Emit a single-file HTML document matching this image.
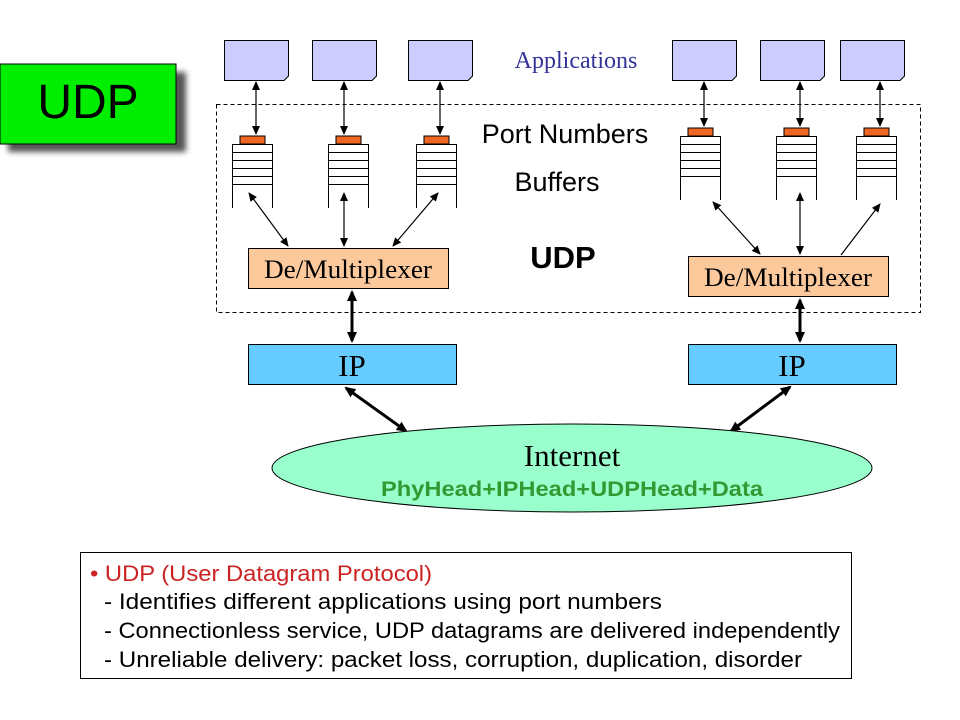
<!DOCTYPE html>
<html><head><meta charset="utf-8"><style>html,body{margin:0;padding:0;background:#fff}svg{display:block}</style></head><body>
<svg width="960" height="720" viewBox="0 0 960 720" xmlns="http://www.w3.org/2000/svg">
<defs>
<marker id="a" markerWidth="10" markerHeight="10" refX="8" refY="5" orient="auto-start-reverse" markerUnits="userSpaceOnUse"><path d="M0,1 L9,5 L0,9 z" fill="#000"/></marker>
<marker id="b" markerWidth="12" markerHeight="12" refX="9" refY="6" orient="auto-start-reverse" markerUnits="userSpaceOnUse"><path d="M0,1 L11,6 L0,11 z" fill="#000"/></marker>
<filter id="sh" x="-20%" y="-20%" width="150%" height="150%"><feGaussianBlur stdDeviation="3"/></filter>
</defs>
<rect x="8" y="72" width="178" height="80" fill="#555" filter="url(#sh)"/>
<rect x="0" y="64" width="176" height="80" fill="#00ee00" stroke="#000" stroke-width="1"/>
<text x="88" y="118" font-family="Liberation Sans,sans-serif" font-size="48" text-anchor="middle" fill="#000">UDP</text>
<rect x="216.5" y="104.5" width="704" height="208" fill="none" stroke="#000" stroke-dasharray="4,3"/>
<g fill="#ccccff" stroke="#000">
<path d="M224.5,40.5 H288.5 V76 L284,80.5 H224.5 Z"/>
<path d="M312.5,40.5 H376.5 V76 L372,80.5 H312.5 Z"/>
<path d="M408.5,40.5 H472.5 V76 L468,80.5 H408.5 Z"/>
<path d="M672.5,40.5 H736.5 V76 L732,80.5 H672.5 Z"/>
<path d="M760.5,40.5 H824.5 V76 L820,80.5 H760.5 Z"/>
<path d="M840.5,40.5 H904.5 V76 L900,80.5 H840.5 Z"/>
</g>
<text x="576" y="68" font-family="Liberation Serif,serif" font-size="24" fill="#333399" text-anchor="middle">Applications</text>
<text x="565" y="143" font-family="Liberation Sans,sans-serif" font-size="27" fill="#000" text-anchor="middle">Port Numbers</text>
<text x="557" y="191" font-family="Liberation Sans,sans-serif" font-size="27" fill="#000" text-anchor="middle">Buffers</text>
<text x="563" y="268" font-family="Liberation Sans,sans-serif" font-size="31" font-weight="bold" fill="#000" text-anchor="middle">UDP</text>
<g stroke="#000" fill="none">
<g transform="translate(232,136)">
<rect x="8" y="0" width="25" height="8" fill="#ee6622"/>
<path d="M0.5,72 V8.5 H40.5 V72 M0.5,16.5 H40.5 M0.5,24.5 H40.5 M0.5,32.5 H40.5 M0.5,40.5 H40.5 M0.5,48.5 H40.5"/>
</g>
<g transform="translate(328,136)">
<rect x="8" y="0" width="25" height="8" fill="#ee6622"/>
<path d="M0.5,72 V8.5 H40.5 V72 M0.5,16.5 H40.5 M0.5,24.5 H40.5 M0.5,32.5 H40.5 M0.5,40.5 H40.5 M0.5,48.5 H40.5"/>
</g>
<g transform="translate(416,136)">
<rect x="8" y="0" width="25" height="8" fill="#ee6622"/>
<path d="M0.5,72 V8.5 H40.5 V72 M0.5,16.5 H40.5 M0.5,24.5 H40.5 M0.5,32.5 H40.5 M0.5,40.5 H40.5 M0.5,48.5 H40.5"/>
</g>
<g transform="translate(680,128)">
<rect x="8" y="0" width="25" height="8" fill="#ee6622"/>
<path d="M0.5,72 V8.5 H40.5 V72 M0.5,16.5 H40.5 M0.5,24.5 H40.5 M0.5,32.5 H40.5 M0.5,40.5 H40.5 M0.5,48.5 H40.5"/>
</g>
<g transform="translate(776,128)">
<rect x="8" y="0" width="25" height="8" fill="#ee6622"/>
<path d="M0.5,72 V8.5 H40.5 V72 M0.5,16.5 H40.5 M0.5,24.5 H40.5 M0.5,32.5 H40.5 M0.5,40.5 H40.5 M0.5,48.5 H40.5"/>
</g>
<g transform="translate(856,128)">
<rect x="8" y="0" width="25" height="8" fill="#ee6622"/>
<path d="M0.5,72 V8.5 H40.5 V72 M0.5,16.5 H40.5 M0.5,24.5 H40.5 M0.5,32.5 H40.5 M0.5,40.5 H40.5 M0.5,48.5 H40.5"/>
</g>
</g>
<g stroke="#000" stroke-width="1.2" marker-start="url(#a)" marker-end="url(#a)">
<line x1="256" y1="82" x2="256" y2="134"/>
<line x1="344" y1="82" x2="344" y2="134"/>
<line x1="440" y1="82" x2="440" y2="134"/>
<line x1="704" y1="82" x2="704" y2="126"/>
<line x1="800" y1="82" x2="800" y2="126"/>
<line x1="880" y1="82" x2="880" y2="126"/>
<line x1="249" y1="193" x2="288" y2="246"/>
<line x1="344" y1="193" x2="344" y2="246"/>
<line x1="438" y1="193" x2="393" y2="246"/>
<line x1="713" y1="202" x2="760" y2="254"/>
<line x1="800" y1="193" x2="800" y2="254"/>
</g>
<line x1="841" y1="255" x2="880" y2="204" stroke="#000" stroke-width="1.2" marker-end="url(#a)"/>
<rect x="248.5" y="248.5" width="200" height="40" fill="#fcc99c" stroke="#000"/>
<text x="348" y="278" font-family="Liberation Serif,serif" font-size="26" text-anchor="middle" textLength="168" lengthAdjust="spacingAndGlyphs">De/Multiplexer</text>
<rect x="688.5" y="256.5" width="200" height="40" fill="#fcc99c" stroke="#000"/>
<text x="788" y="286" font-family="Liberation Serif,serif" font-size="26" text-anchor="middle" textLength="168" lengthAdjust="spacingAndGlyphs">De/Multiplexer</text>
<g stroke="#000" stroke-width="3" marker-start="url(#b)" marker-end="url(#b)">
<line x1="352" y1="292" x2="352" y2="341"/>
<line x1="800" y1="300" x2="800" y2="341"/>
<line x1="346" y1="388" x2="406" y2="431"/>
<line x1="790" y1="387" x2="731" y2="431"/>
</g>
<rect x="248.5" y="344.5" width="208" height="40" fill="#66ccff" stroke="#000"/>
<text x="352" y="376" font-family="Liberation Serif,serif" font-size="31" text-anchor="middle">IP</text>
<rect x="688.5" y="344.5" width="208" height="40" fill="#66ccff" stroke="#000"/>
<text x="792" y="376" font-family="Liberation Serif,serif" font-size="31" text-anchor="middle">IP</text>
<ellipse cx="572" cy="468" rx="300" ry="44" fill="#99ffcc" stroke="#000"/>
<text x="572" y="466" font-family="Liberation Serif,serif" font-size="31" text-anchor="middle">Internet</text>
<text x="572" y="496" font-family="Liberation Sans,sans-serif" font-size="21" font-weight="bold" fill="#339933" text-anchor="middle" textLength="382" lengthAdjust="spacingAndGlyphs">PhyHead+IPHead+UDPHead+Data</text>
<rect x="80.5" y="552.5" width="771" height="126" fill="#fff" stroke="#000"/>
<g font-family="Liberation Sans,sans-serif" font-size="22">
<text x="90" y="581" fill="#cc2222" textLength="342" lengthAdjust="spacingAndGlyphs">• UDP (User Datagram Protocol)</text>
<text x="104" y="609" textLength="558" lengthAdjust="spacingAndGlyphs">- Identifies different applications using port numbers</text>
<text x="104" y="638" textLength="736" lengthAdjust="spacingAndGlyphs">- Connectionless service, UDP datagrams are delivered independently</text>
<text x="104" y="667" textLength="698" lengthAdjust="spacingAndGlyphs">- Unreliable delivery: packet loss, corruption, duplication, disorder</text>
</g>
</svg>
</body></html>
